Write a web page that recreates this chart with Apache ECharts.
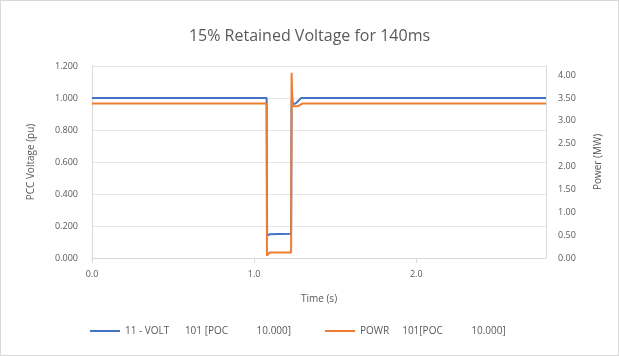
<!DOCTYPE html>
<html>
<head>
<meta charset="utf-8">
<script src="https://cdn.jsdelivr.net/npm/echarts@6/dist/echarts.min.js"></script>
<style>
html,body{margin:0;padding:0;background:#fff;}
#wrap{position:absolute;left:0;top:0;width:617px;height:354px;border:1px solid #d9d9d9;}
#chart{width:617px;height:354px;}
</style>
</head>
<body>
<div id="wrap"><div id="chart"></div></div>
<script>
const titleText = "15% Retained Voltage for 140ms";
const voltName = "11 - VOLT      101 [POC           10.000]";
const powName = "POWR     101[POC           10.000]";
const voltTime = [0, 1.077, 1.080, 1.095, 1.150, 1.228, 1.231, 1.240, 1.255, 1.290, 2.8];
const voltVals = [1.000, 1.000, 0.140, 0.148, 0.150, 0.152, 0.990, 0.962, 0.965, 1.000, 1.000];
const powTime = [0, 1.077, 1.079, 1.090, 1.095, 1.228, 1.231, 1.234, 1.240, 1.250, 1.270, 1.300, 2.8];
const powVals = [3.38, 3.38, 0.05, 0.06, 0.12, 0.12, 4.05, 3.60, 3.32, 3.28, 3.32, 3.38, 3.38];

const voltData = voltTime.map((t, i) => [t, voltVals[i]]);
const powData = powTime.map((t, i) => [t, powVals[i]]);

const chart = echarts.init(document.getElementById('chart'));
const font = 'Open Sans, sans-serif';
const gray = '#595959';
chart.setOption({
  animation: false,
  textStyle: {fontFamily: font},
  title: {text: titleText, left: 'center', top: 22,
    textStyle: {fontSize: 16, fontWeight: 'normal', color: gray, fontFamily: font}},
  grid: {left: 91, right: 72, top: 65, bottom: 97},
  legend: [
    {data: [voltName], left: 84, top: 320, itemWidth: 30, itemHeight: 2, icon: 'rect',
      textStyle: {fontSize: 10, color: gray}},
    {data: [powName], left: 319, top: 320, itemWidth: 30, itemHeight: 2, icon: 'rect',
      textStyle: {fontSize: 10, color: gray}}
  ],
  xAxis: {type: 'value', min: 0, max: 2.8, interval: 1,
    name: 'Time (s)', nameLocation: 'middle', nameGap: 36,
    nameTextStyle: {fontSize: 10, color: gray},
    axisLine: {show: true, lineStyle: {color: '#d9d9d9'}},
    axisTick: {show: true, lineStyle: {color: '#d9d9d9'}},
    axisLabel: {fontSize: 9, color: gray, showMaxLabel: false, formatter: v => v.toFixed(1), margin: 12},
    splitLine: {show: false}},
  yAxis: [
    {type: 'value', min: 0, max: 1.2, interval: 0.2, position: 'left',
      name: 'PCC Voltage (pu)', nameLocation: 'middle', nameGap: 56, nameRotate: 90,
      nameTextStyle: {fontSize: 10, color: gray},
      axisLine: {show: true, lineStyle: {color: '#d9d9d9'}},
      axisTick: {show: false},
      axisLabel: {fontSize: 9, color: gray, formatter: v => v.toFixed(3), margin: 14},
      splitLine: {show: true, lineStyle: {color: '#e6e6e6'}}},
    {type: 'value', min: 0, max: 4.2, interval: 0.5, position: 'right',
      name: 'Power (MW)', nameLocation: 'middle', nameGap: 47, nameRotate: 90,
      nameTextStyle: {fontSize: 10, color: gray},
      axisLine: {show: true, lineStyle: {color: '#d9d9d9'}},
      axisTick: {show: false},
      axisLabel: {fontSize: 9, color: gray, showMaxLabel: false, formatter: v => v.toFixed(2), margin: 12},
      splitLine: {show: false}}
  ],
  series: [
    {name: voltName, type: 'line', yAxisIndex: 0, data: voltData, showSymbol: false,
      color: '#4472C4', lineStyle: {width: 2, color: '#4472C4'}},
    {name: powName, type: 'line', yAxisIndex: 1, data: powData, showSymbol: false,
      color: '#ED7D31', lineStyle: {width: 2, color: '#ED7D31'}}
  ]
});
</script>
</body>
</html>
